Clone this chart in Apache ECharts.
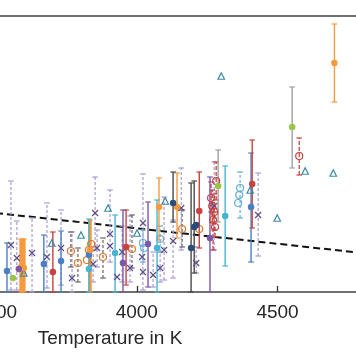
<!DOCTYPE html>
<html><head><meta charset="utf-8">
<script src="https://cdn.jsdelivr.net/npm/echarts@6/dist/echarts.min.js"></script>
<style>html,body{margin:0;padding:0;background:#fff}#c{width:356px;height:364px}</style>
</head><body><div id="c"></div>
<script>
// ---- Data (temperature in K, arbitrary y units) ----
const tickLabels = [3500, 4000, 4500];
const xTitle = 'Temperature in K';
const trendT = [3500, 4800];
const trendV = [0.79, 0.39];

const blueT = [3539, 3670, 3731, 3830, 4406];
const blueV = [0.21, 0.28, 0.31, 0.37, 0.85];
const blueLo = [0, 0, 0, 0.37, 0.30];
const blueHi = [0.49, 0.57, 0.61, 0.37, 1.39];

const orangeT = [4079, 4143, 4702];
const orangeV = [0.85, 0.85, 2.29];
const orangeLo = [0.52, 0.54, 1.90];
const orangeHi = [1.14, 1.19, 2.68];

const orangeThickT = [3589, 3599, 3834];
const orangeThickV = [0.25, 0.24, 0.42];
const orangeThickLo = [0, 0, 0];
const orangeThickHi = [0.53, 0.53, 0.72];

const greenT = [3560, 4289, 4552];
const greenV = [0.14, 1.06, 1.65];
const greenLo = [0.14, 0.70, 1.24];
const greenHi = [0.14, 1.42, 2.05];

const redT = [3702, 3962, 4222, 4410];
const redV = [0.20, 0.45, 0.81, 1.08];
const redLo = [0, 0.07, 0.44, 0.64];
const redHi = [0.60, 0.82, 1.20, 1.52];

const navyT = [4129, 4193, 4204, 4211];
const navyV = [0.89, 0.44, 0.65, 0.67];
const navyLo = [0.70, 0, 0.19, 0.67];
const navyHi = [1.20, 1.09, 1.11, 0.67];

const purpleT = [3581, 3951, 4040, 4260];
const purpleV = [0.23, 0.29, 0.48, 0.54];
const purpleLo = [0.23, 0, 0.05, 0];
const purpleHi = [0.23, 0.82, 0.90, 1.15];

const cyanT = [3830, 3923, 4072, 4314];
const cyanV = [0.23, 0.39, 0.44, 0.76];
const cyanLo = [0, 0, 0, 0.26];
const cyanHi = [0.73, 0.77, 0.92, 1.26];

const triT = [3599, 3698, 3802, 3898, 4001, 4101, 4300, 4403, 4499, 4598, 4698];
const triV = [0.19, 0.49, 0.57, 0.84, 0.59, 0.91, 2.16, 1.02, 0.74, 1.21, 1.19];

const lavT = [3553, 3574, 3628, 3681, 3731, 3770, 3845, 3852, 3859, 3905, 3905, 3930, 3948, 3976, 4022, 4019, 4022, 4058, 4083, 4097, 4129, 4158, 4211, 4275, 4431];
const lavV = [0.47, 0.34, 0.39, 0.35, 0.44, 0.14, 0.28, 0.79, 0.44, 0.58, 0.46, 0.15, 0.40, 0.24, 0.69, 0.35, 0.20, 0.17, 0.24, 0.42, 0.51, 0.84, 0.29, 0.86, 0.77];
const lavLo = [0.02, 0.02, 0, 0.04, 0.07, 0, 0.10, 0.42, 0.25, 0.30, 0.46, 0.15, 0.10, 0.10, 0.02, 0.35, 0.20, 0.05, 0.10, 0.12, 0.14, 0.42, 0.19, 0.42, 0.36];
const lavHi = [1.11, 0.71, 0.74, 0.89, 0.82, 0.60, 0.45, 1.15, 0.62, 1.02, 0.46, 0.15, 0.66, 0.76, 1.18, 0.35, 0.20, 0.40, 0.40, 0.95, 0.72, 1.24, 0.45, 1.30, 1.19];

const openOrT = [3766, 3791, 3823, 3830, 3838, 3880, 3983, 4161, 4222];
const openOrV = [0.41, 0.29, 0.32, 0.42, 0.48, 0.35, 0.43, 0.63, 0.63];
const openOrLo = [0.25, 0.10, 0.32, 0.42, 0.48, 0.14, 0.24, 0.45, 0.63];
const openOrHi = [0.60, 0.44, 0.32, 0.42, 0.48, 0.54, 0.77, 0.82, 0.63];

const openRedT = [4264, 4268, 4271, 4275, 4278, 4282, 4577];
const openRedV = [0.94, 0.86, 0.72, 0.80, 0.65, 1.11, 1.36];
const openRedLo = [0.80, 0.70, 0.42, 0.62, 0.55, 0.92, 1.17];
const openRedHi = [1.10, 1.02, 0.86, 0.98, 0.80, 1.30, 1.54];

const openLbT = [4022, 4026, 4083, 4367, 4364, 4360];
const openLbV = [0.49, 0.44, 0.53, 1.04, 0.97, 0.89];
const openLbLo = [0.30, 0.44, 0.40, 0.74, 0.97, 0.89];
const openLbHi = [0.62, 0.44, 0.66, 1.20, 0.97, 0.89];

// ---- helpers ----
function pts(t, v) { return t.map((x, i) => [x, v[i]]); }
function errSeries(t, lo, hi, color, width, dash) {
  return {
    type: 'custom', silent: true, z: 2,
    data: t.map((x, i) => [x, lo[i], hi[i]]),
    encode: { x: 0, y: [1, 2] },
    renderItem: function (params, api) {
      const x = api.value(0), l = api.value(1), h = api.value(2);
      if (l === h) return null;
      const a = api.coord([x, l]), b = api.coord([x, h]);
      const w = 2.8;
      const cap = { stroke: color, lineWidth: 1.2 };
      return { type: 'group', children: [
        { type: 'line', shape: { x1: a[0], y1: a[1], x2: b[0], y2: b[1] }, style: { stroke: color, lineWidth: width, lineDash: dash || null } },
        { type: 'line', shape: { x1: b[0] - w, y1: b[1], x2: b[0] + w, y2: b[1] }, style: cap },
        { type: 'line', shape: { x1: a[0] - w, y1: a[1], x2: a[0] + w, y2: a[1] }, style: cap }
      ] };
    }
  };
}
function filled(t, v, color, size) {
  return { type: 'scatter', z: 4, data: pts(t, v), symbol: 'circle', symbolSize: size || 6.5, itemStyle: { color: color, opacity: 1 } };
}
function hollow(t, v, symbol, color, size) {
  return { type: 'scatter', z: 4, data: pts(t, v), symbol: symbol, symbolSize: size || 6.5,
    itemStyle: { color: 'rgba(0,0,0,0)', borderColor: color, borderWidth: 1.2, opacity: 1 } };
}

const series = [
  { type: 'line', data: pts(trendT, trendV), symbol: 'none', z: 1, silent: true,
    lineStyle: { color: '#111', width: 2, type: [7, 4] } },
  errSeries(lavT, lavLo, lavHi, '#ab9bd3', 1.2, [3, 2]),
  errSeries(openOrT, openOrLo, openOrHi, '#666', 1.2, [3, 2]),
  errSeries(openRedT, openRedLo, openRedHi, '#c8423f', 1.3, [4, 2]),
  errSeries(openLbT, openLbLo, openLbHi, '#62acd6', 1.2, [3, 2]),
  errSeries(blueT, blueLo, blueHi, '#4a7fc4', 1.4),
  errSeries(orangeT, orangeLo, orangeHi, '#f79a3c', 1.4),
  errSeries(orangeThickT, orangeThickLo, orangeThickHi, '#f79a3c', 3.5),
  errSeries(greenT, greenLo, greenHi, '#a0a0a0', 1.4),
  errSeries(redT, redLo, redHi, '#c8423f', 1.4),
  errSeries(navyT, navyLo, navyHi, '#4a4a4a', 1.4),
  errSeries(purpleT, purpleLo, purpleHi, '#7c58a6', 1.4),
  errSeries(cyanT, cyanLo, cyanHi, '#48b4cf', 1.4),
  hollow(lavT, lavV, 'path://M0 0L10 10M10 0L0 10', '#5f4f8a', 6),
  hollow(openOrT, openOrV, 'circle', '#e0782a', 7),
  hollow(openRedT, openRedV, 'circle', '#c8423f', 7),
  hollow(openLbT, openLbV, 'circle', '#62acd6', 7),
  hollow(triT, triV, 'triangle', '#3a8aa2', 6.5),
  filled(blueT, blueV, '#4a7fc4'),
  filled(orangeT, orangeV, '#f79a3c'),
  filled(orangeThickT, orangeThickV, '#f79a3c'),
  filled(greenT, greenV, '#9ac54a'),
  filled(redT, redV, '#c8423f'),
  filled(navyT, navyV, '#2c4a7a'),
  filled(purpleT, purpleV, '#7c58a6'),
  filled(cyanT, cyanV, '#48b4cf')
];

const chart = echarts.init(document.getElementById('c'), null, { renderer: 'canvas' });
chart.setOption({
  animation: false,
  backgroundColor: '#fff',
  grid: { left: -4, right: -6, top: 16, bottom: 72, containLabel: false, outerBoundsMode: 'none' },
  xAxis: [{
    type: 'value', min: 3500, max: 4800, interval: 500, position: 'bottom',
    axisLine: { show: true, lineStyle: { color: '#404040', width: 1.6 } },
    axisTick: { show: true, inside: true, length: 6, lineStyle: { color: '#333', width: 1.3 } },
    axisLabel: { margin: 11, color: '#262626', fontSize: 19, fontFamily: 'Liberation Sans, Arial, sans-serif',
      formatter: v => tickLabels.includes(v) ? String(v) : '' },
    splitLine: { show: false }
  }, {
    type: 'value', min: 3500, max: 4800, interval: 500, position: 'top',
    axisLine: { show: true, lineStyle: { color: '#404040', width: 1.6 } },
    axisTick: { show: false }, axisLabel: { show: false }, splitLine: { show: false }
  }],
  yAxis: { type: 'value', min: 0, max: 2.76, show: false },
  graphic: [{ type: 'text', silent: true,
    style: { text: xTitle, x: 110, y: 339, align: 'center', verticalAlign: 'middle',
      font: '19px "Liberation Sans", Arial, sans-serif', fill: '#262626' } }],
  series: series
});
</script></body></html>
